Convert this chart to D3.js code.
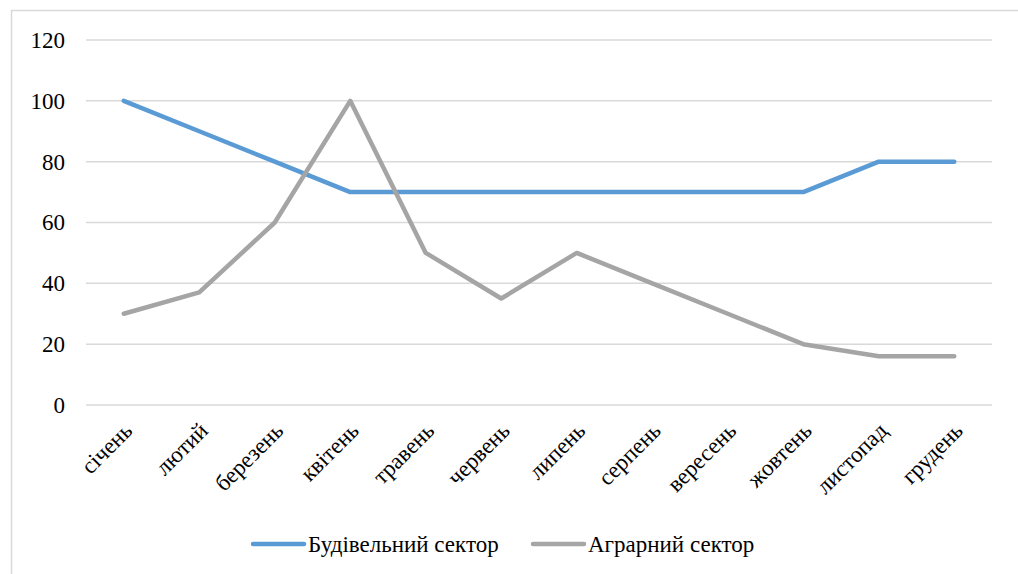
<!DOCTYPE html>
<html>
<head>
<meta charset="utf-8">
<script src="https://cdn.jsdelivr.net/npm/d3@7"></script>
</head>
<body style="margin:0">
<svg id="chart" width="1018" height="574"></svg>
<script>
// Monthly index values for the two sectors
const months = ["січень", "лютий", "березень", "квітень", "травень", "червень",
                "липень", "серпень", "вересень", "жовтень", "листопад", "грудень"];
const buildValues = [100, 90, 80, 70, 70, 70, 70, 70, 70, 70, 80, 80];
const agroValues  = [30, 37, 60, 100, 50, 35, 50, 40, 30, 20, 16, 16];
const yTicks = [0, 20, 40, 60, 80, 100, 120];
const seriesNames = ["Будівельний сектор", "Аграрний сектор"];
const seriesColors = ["#5B9BD5", "#A5A5A5"];

const FONT = '"Liberation Serif"';
const svg = d3.select("#chart");

// serif text helper
function serif(sel) {
  return sel.attr("font-family", "Liberation Serif")
    .style("font-family", FONT, "important")
    .attr("font-size", 23).attr("fill", "#000");
}

// outer frame
svg.append("rect")
  .attr("x", 11.5).attr("y", 10.5)
  .attr("width", 1200).attr("height", 800)
  .attr("fill", "none").attr("stroke", "#D9D9D9").attr("stroke-width", 1.5);

const plot = { left: 86, right: 992, top: 40, bottom: 405 };

const x = d3.scaleBand().domain(months).range([plot.left, plot.right]);
const y = d3.scaleLinear().domain([0, 120]).range([plot.bottom, plot.top]);

// horizontal gridlines
svg.append("g")
  .selectAll("line")
  .data(yTicks)
  .join("line")
  .attr("x1", plot.left).attr("x2", plot.right)
  .attr("y1", d => y(d)).attr("y2", d => y(d))
  .attr("stroke", "#D9D9D9").attr("stroke-width", 1.5);

// y axis labels
const yAxis = d3.axisLeft(y).tickValues(yTicks).tickSize(0).tickPadding(21);
const yg = svg.append("g").attr("transform", `translate(${plot.left},0)`).call(yAxis);
yg.select(".domain").remove();
yg.attr("font-family", "Liberation Serif").attr("font-size", 23);
serif(yg.selectAll("text"));

// x axis labels, rotated
const xAxis = d3.axisBottom(x).tickSize(0).tickPadding(0);
const xg = svg.append("g").attr("transform", `translate(0,${plot.bottom})`).call(xAxis);
xg.select(".domain").remove();
xg.attr("font-family", "Liberation Serif").attr("font-size", 23);
serif(xg.selectAll("text"))
  .attr("text-anchor", "end")
  .attr("y", 0)
  .attr("dy", null)
  .attr("transform", "translate(10,27) rotate(-45)");

// lines
const line = d3.line()
  .x((d, i) => x(months[i]) + x.bandwidth() / 2)
  .y(d => y(d));

[buildValues, agroValues].forEach((vals, k) => {
  svg.append("path")
    .datum(vals)
    .attr("d", line)
    .attr("fill", "none")
    .attr("stroke", seriesColors[k])
    .attr("stroke-width", 4.5)
    .attr("stroke-linejoin", "round")
    .attr("stroke-linecap", "round");
});

// legend
const legendItems = [
  { name: seriesNames[0], color: seriesColors[0], x0: 253 },
  { name: seriesNames[1], color: seriesColors[1], x0: 533 }
];
legendItems.forEach(it => {
  svg.append("line")
    .attr("x1", it.x0).attr("x2", it.x0 + 51)
    .attr("y1", 544).attr("y2", 544)
    .attr("stroke", it.color).attr("stroke-width", 4.5)
    .attr("stroke-linecap", "round");
  serif(svg.append("text"))
    .attr("x", it.x0 + 55).attr("y", 552)
    .text(it.name);
});
</script>
</body>
</html>
